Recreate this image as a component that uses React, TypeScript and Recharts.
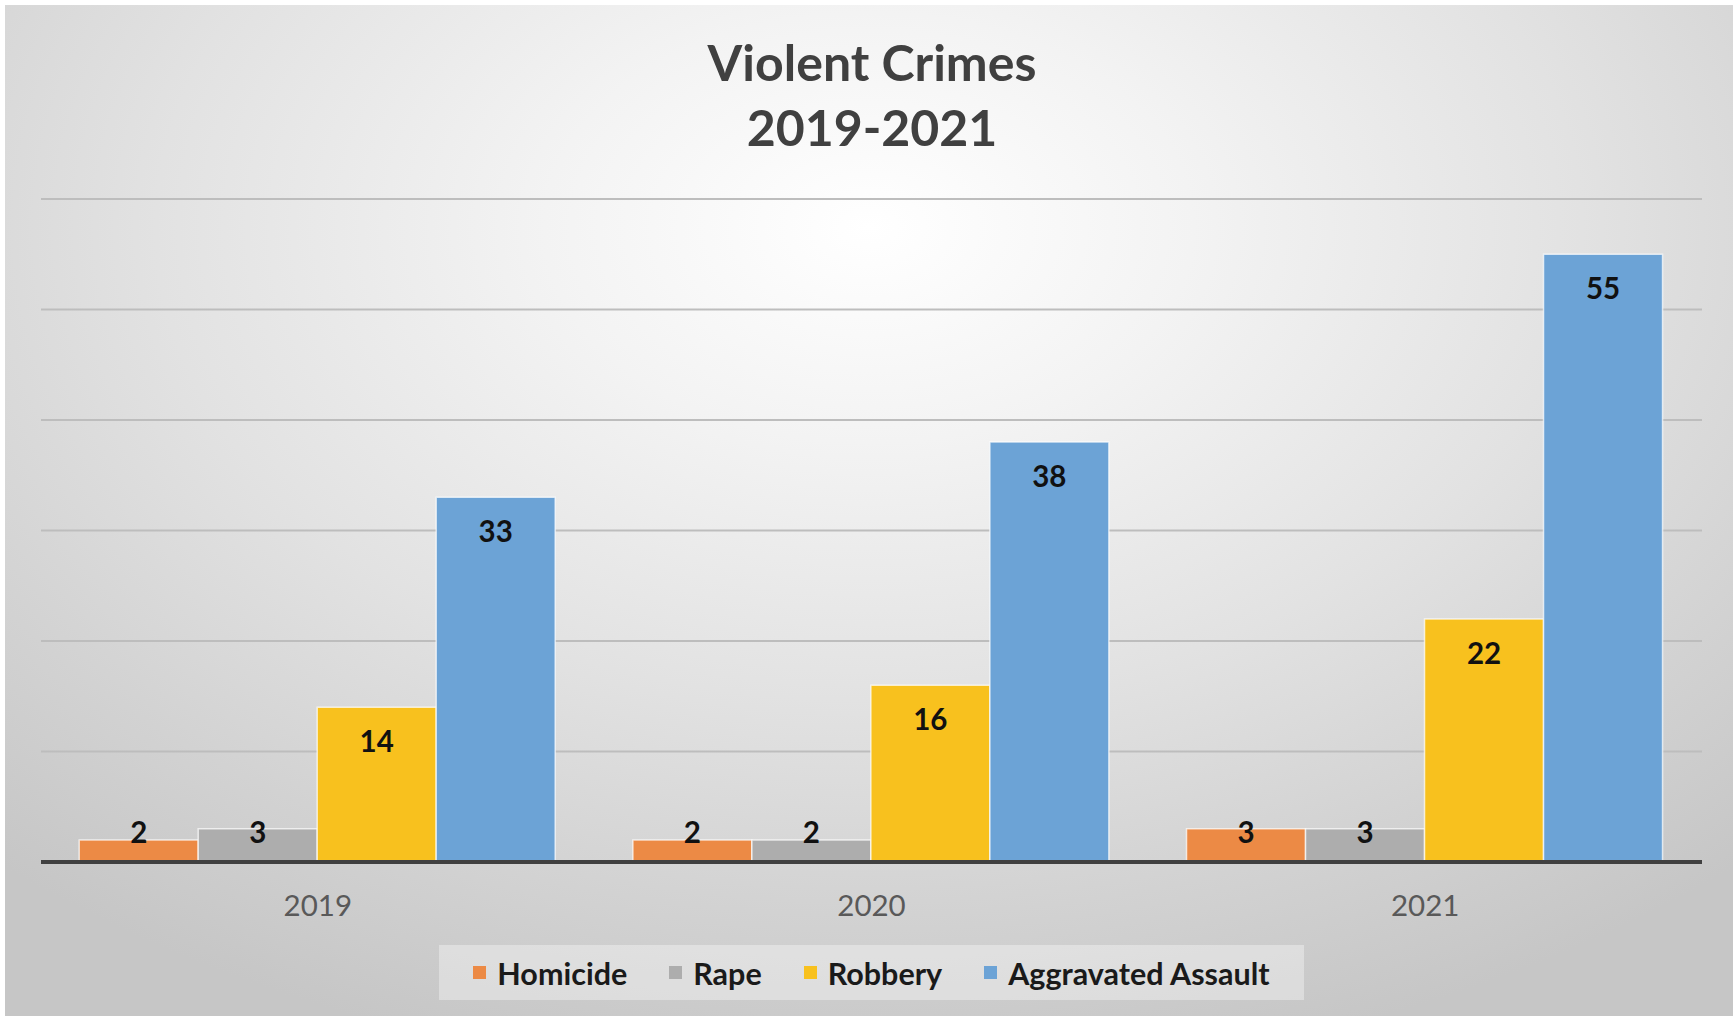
import React from 'react';
import { BarChart, Bar, XAxis, YAxis, CartesianGrid, Legend } from 'recharts';

const categories = ['2019', '2020', '2021'];
const homicide = [2, 2, 3];
const rape = [3, 2, 3];
const robbery = [14, 16, 22];
const aggravatedAssault = [33, 38, 55];
const seriesNames = ['Homicide', 'Rape', 'Robbery', 'Aggravated Assault'];
const seriesKeys = ['homicide', 'rape', 'robbery', 'assault'];
const seriesColors = ['#EC8A45', '#ADADAD', '#F8C11E', '#6CA3D6'];
const yTicks = [0, 10, 20, 30, 40, 50, 60];
const titleLines = ['Violent Crimes', '2019-2021'];

const data = categories.map((c, i) => ({
  year: c,
  homicide: homicide[i],
  rape: rape[i],
  robbery: robbery[i],
  assault: aggravatedAssault[i],
}));

const FONT = "Lato, 'Open Sans', 'DejaVu Sans', sans-serif";

const renderLabel = (props: any) => {
  const { x, y, width, height, value } = props;
  const cy = Math.min(y + 33.5, y + height - 30.5);
  return (
    <text
      x={x + width / 2}
      y={cy}
      textAnchor="middle"
      dominantBaseline="central"
      fontFamily={FONT}
      fontWeight={700}
      fontSize={29.5}
      fill="#111111"
    >
      {value}
    </text>
  );
};

const renderTick = (props: any) => {
  const { x, y, payload } = props;
  return (
    <text
      x={x}
      y={y + 42}
      textAnchor="middle"
      dominantBaseline="central"
      fontFamily={FONT}
      fontSize={29.5}
      fill="#595959"
    >
      {payload.value}
    </text>
  );
};

const renderLegend = () => (
  <div
    style={{
      width: 865,
      height: 55,
      background: 'rgba(255,255,255,0.35)',
      display: 'flex',
      alignItems: 'center',
      justifyContent: 'center',
      gap: 42,
      boxSizing: 'border-box',
      fontFamily: FONT,
      fontWeight: 700,
      fontSize: 30.5,
      color: '#1a1a1a',
    }}
  >
    {seriesNames.map((n, i) => (
      <div key={n} style={{ display: 'flex', alignItems: 'center' }}>
        <span
          style={{
            display: 'inline-block',
            width: 13,
            height: 13,
            background: seriesColors[i],
            marginRight: 11,
          }}
        />
        <span>{n}</span>
      </div>
    ))}
  </div>
);

export default function App() {
  return (
    <div style={{ position: 'relative', width: 1733, height: 1016, background: '#ffffff', overflow: 'hidden' }}>
      <style>{`body{margin:0}`}</style>
      <div
        style={{
          position: 'absolute',
          left: 5,
          top: 5,
          width: 1728,
          height: 1011,
          background:
            'radial-gradient(ellipse 75% 85% at 50% 22%, #ffffff 0%, #f3f3f3 25%, #e2e2e2 55%, #d2d2d2 80%, #c6c6c6 100%)',
        }}
      >
        <BarChart
          width={1728}
          height={1011}
          data={data}
          margin={{ top: 194, right: 31, left: 36, bottom: 39 }}
          barCategoryGap="6.9%"
          barGap={0}
        >
          <CartesianGrid vertical={false} stroke="#BDBDBD" strokeWidth={2} />
          <YAxis hide domain={[0, 60]} ticks={yTicks} />
          <XAxis
            dataKey="year"
            height={60}
            axisLine={{ stroke: '#404040', strokeWidth: 4 }}
            tickLine={false}
            tickSize={0}
            tickMargin={0}
            tick={renderTick}
          />
          <Legend
            verticalAlign="bottom"
            content={renderLegend}
            wrapperStyle={{ left: 434, top: 940, width: 865, height: 55 }}
          />
          {seriesKeys.map((k, i) => (
            <Bar
              key={k}
              dataKey={k}
              name={seriesNames[i]}
              fill={seriesColors[i]}
              stroke="#ffffff"
              strokeOpacity={0.7}
              strokeWidth={1.5}
              isAnimationActive={false}
              label={renderLabel}
            />
          ))}
        </BarChart>
        {titleLines.map((t, i) => (
          <div
            key={t}
            style={{
              position: 'absolute',
              left: 0,
              width: 1734,
              top: 25 + i * 65,
              lineHeight: '65px',
              textAlign: 'center',
              fontFamily: FONT,
              fontWeight: 700,
              fontSize: 50,
              color: '#404040',
            }}
          >
            {t}
          </div>
        ))}
      </div>
    </div>
  );
}
